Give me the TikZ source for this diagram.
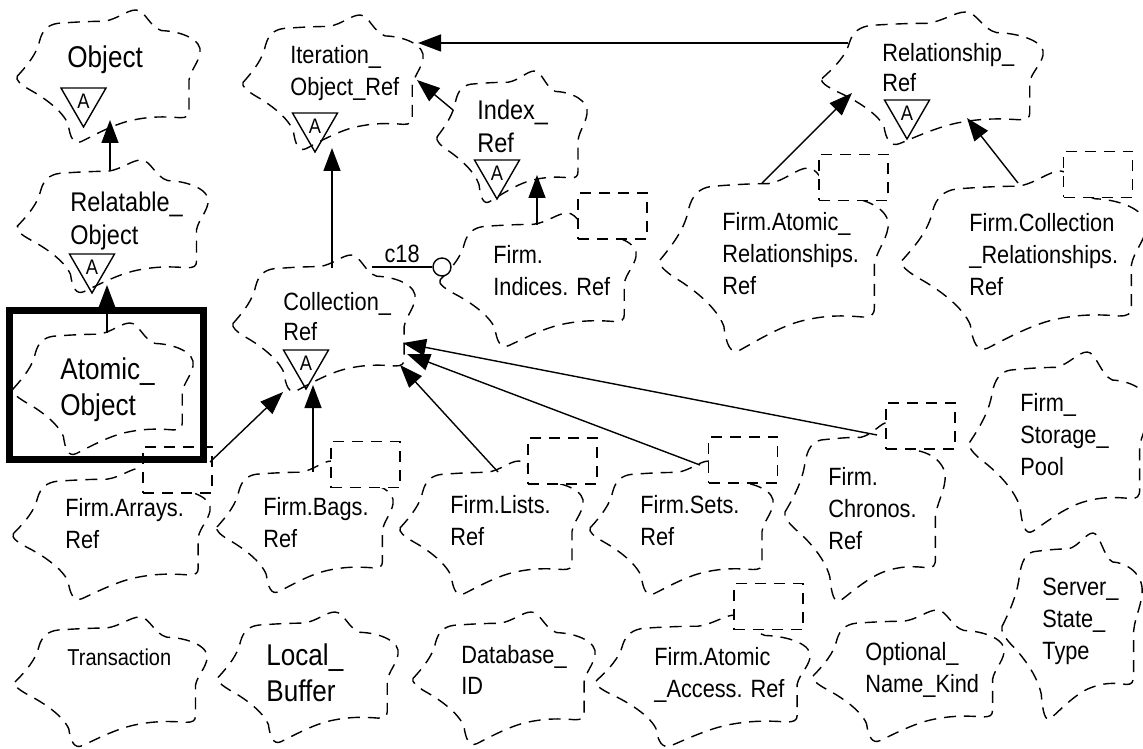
\documentclass[tikz,border=0pt]{standalone}
\usepackage{fontspec}
\setmainfont{Liberation Sans}[FakeStretch=0.87]
\usepackage{tikz}
\usetikzlibrary{arrows.meta,shapes.geometric}

\newcommand{\bcloud}[4]{\draw[cloudline,shift={(#1,#2)},xscale=#3,yscale=-#4]
  (-1,0) .. controls (-0.88,0.18) and (-0.78,0.35) .. (-0.75,0.55)
  .. controls (-0.72,0.7) and (-0.66,0.78) .. (-0.55,0.8)
  .. controls (-0.35,0.82) and (-0.2,0.83) .. (-0.05,0.83)
  .. controls (0.1,0.86) and (0.2,1.0) .. (0.3,1.0)
  .. controls (0.4,1.0) and (0.45,0.74) .. (0.58,0.69)
  .. controls (0.8,0.68) and (1.03,0.55) .. (1.0,0.35)
  .. controls (0.98,0.2) and (0.9,0.1) .. (0.88,-0.05)
  -- (0.88,-0.52) .. controls (0.88,-0.6) and (0.85,-0.62) .. (0.78,-0.62)
  .. controls (0.6,-0.6) and (0.45,-0.6) .. (0.25,-0.66)
  .. controls (0.05,-0.72) and (-0.18,-0.9) .. (-0.3,-0.98)
  .. controls (-0.38,-1.03) and (-0.42,-0.92) .. (-0.44,-0.72)
  .. controls (-0.5,-0.52) and (-0.7,-0.32) .. (-0.86,-0.2)
  .. controls (-0.96,-0.12) and (-1.02,-0.05) .. cycle;}

\begin{document}
\begin{tikzpicture}[x=0.5pt,y=-0.5pt,
  cloudline/.style={dash pattern=on 6pt off 4pt,line width=0.7pt},
  lbl/.style={anchor=north west,inner sep=0pt,align=left,font=\fontsize{12.5}{16}\selectfont},
  midlbl/.style={lbl,font=\fontsize{13.5}{16.5}\selectfont},
  biglbl/.style={lbl,font=\fontsize{15}{18}\selectfont},
  absmark/.style={draw,regular polygon,regular polygon sides=3,shape border rotate=180,minimum size=26pt,inner sep=0pt,line width=0.7pt,font=\fontsize{10.5}{10}\selectfont},
  parambox/.style={draw,fill=white,dash pattern=on 5.5pt off 4pt,line width=0.7pt,minimum width=34.5pt,minimum height=23pt,inner sep=0pt},
  inherit/.style={-{Triangle[length=11.5pt,width=8.5pt]},line width=0.7pt}]
\useasboundingbox (0,0) rectangle (1143,748);
\clip (0,0) rectangle (1143,748);

\bcloud{108.5}{76.5}{91.5}{66.5}
\bcloud{112.5}{226.5}{95.5}{66.5}
\bcloud{103}{389}{90}{66}
\bcloud{333}{82.5}{90}{67.5}
\bcloud{512}{137}{75}{66}
\bcloud{932.5}{78.5}{110.5}{66.5}
\bcloud{774}{260}{114}{92}
\bcloud{1024}{260.5}{122}{89.5}
\bcloud{324}{323.5}{91}{68.5}
\bcloud{538}{280}{98}{67}
\bcloud{111.5}{534}{98.5}{66}
\bcloud{305}{527}{88}{66}
\bcloud{491.5}{528}{91.5}{67}
\bcloud{681.5}{528}{91.5}{67}
\bcloud{865}{512}{80}{90}
\bcloud{1060}{442.5}{90.5}{90.5}
\bcloud{111}{682}{96}{65}
\bcloud{308}{677.5}{90}{65.5}
\bcloud{504}{678.5}{91}{66.5}
\bcloud{703}{681}{107}{66}
\bcloud{908.5}{676}{95.5}{66}
\bcloud{1072}{626.5}{70}{93.5}

\node[parambox] (arrays-par) at (177.5,470) {};
\node[parambox] (bags-par) at (365.5,464.5) {};
\node[parambox] (lists-par) at (562.5,461) {};
\node[parambox] (sets-par) at (743,460) {};
\node[parambox] (chronos-par) at (920.5,426) {};
\node[parambox] (indices-par) at (612.5,216) {};
\node[parambox] (atomrel-par) at (853.5,177.5) {};
\node[parambox] (collrel-par) at (1098,174.5) {};
\node[parambox] (access-par) at (768.5,606.5) {};

\node[draw,line width=3.5pt,minimum width=97pt,minimum height=74.5pt,inner sep=0pt] (atomic-box) at (106.5,385) {};

\node[biglbl] (object) at (67,45) {Object};
\node[midlbl] (relatable) at (70,192) {Relatable\_\\Object};
\node[biglbl] (atomic) at (60,357) {Atomic\_\\Object};
\node[lbl] (iteration) at (290,45) {Iteration\_\\Object\_Ref};
\node[midlbl] (index) at (477,100) {Index\_\\Ref};
\node[lbl,font=\fontsize{12.5}{15}\selectfont] (relship) at (882,43) {Relationship\_\\Ref};
\node[lbl,font=\fontsize{12.5}{15}\selectfont] (collection) at (283,292) {Collection\_\\Ref};
\node[lbl] (indices) at (493,245) {Firm.\\Indices. Ref};
\node[lbl] (atomrel) at (722,212) {Firm.Atomic\_\\Relationships.\\Ref};
\node[lbl] (collrel) at (969,213) {Firm.Collection\\\_Relationships.\\Ref};
\node[lbl] (arrays) at (65,498) {Firm.Arrays.\\Ref};
\node[lbl] (bags) at (263,497) {Firm.Bags.\\Ref};
\node[lbl] (lists) at (450,495) {Firm.Lists.\\Ref};
\node[lbl] (sets) at (640,495) {Firm.Sets.\\Ref};
\node[lbl] (chronos) at (828,467) {Firm.\\Chronos.\\Ref};
\node[lbl] (pool) at (1020,393) {Firm\_\\Storage\_\\Pool};
\node[lbl,font=\fontsize{11.5}{14}\selectfont] (transaction) at (67,648) {Transaction};
\node[biglbl] (buffer) at (266,643) {Local\_\\Buffer};
\node[lbl,font=\fontsize{12.5}{15.5}\selectfont] (database) at (461,645) {Database\_\\ID};
\node[lbl] (access) at (654,647) {Firm.Atomic\\\_Access. Ref};
\node[lbl] (optional) at (865,642) {Optional\_\\Name\_Kind};
\node[lbl] (server) at (1042,578) {Server\_\\State\_\\Type};

\node[absmark] (object-a) at (83.5,101) {A};
\node[absmark] (relatable-a) at (92,267) {A};
\node[absmark] (iteration-a) at (315,126) {A};
\node[absmark] (index-a) at (497,173) {A};
\node[absmark] (relship-a) at (907,113) {A};
\node[absmark] (collection-a) at (306,363) {A};

\coordinate (object-in) at (110,120);
\coordinate (relatable-out) at (110,170);
\coordinate (relatable-in) at (107,285);
\coordinate (atomic-out) at (107,333);
\coordinate (iteration-in1) at (332,148);
\coordinate (iteration-in2) at (417,80);
\coordinate (iteration-in3) at (418,43);
\coordinate (collection-out) at (332,268);
\coordinate (index-out) at (453,110);
\coordinate (relship-out) at (848,43);
\coordinate (relship-in1) at (852,93);
\coordinate (relship-in2) at (967,118);
\coordinate (atomrel-out) at (762,183);
\coordinate (collrel-out) at (1018,183);
\coordinate (index-in) at (537,175);
\coordinate (indices-out) at (537,225);
\coordinate (collection-in1) at (283,392);
\coordinate (collection-in2) at (313,385);
\coordinate (collection-in3) at (400,365);
\coordinate (collection-in4) at (407,354);
\coordinate (collection-in5) at (403,343);
\coordinate (arrays-out) at (210,462);
\coordinate (bags-out) at (313,472);
\coordinate (lists-out) at (498,472);
\coordinate (sets-out) at (700,465);
\coordinate (chronos-out) at (877,435);
\coordinate (collection-use) at (372,267);

\draw[inherit] (relatable-out) -- (object-in);
\draw[inherit] (atomic-out) -- (relatable-in);
\draw[inherit] (collection-out) -- (iteration-in1);
\draw[inherit] (index-out) -- (iteration-in2);
\draw[inherit] (relship-out) -- (iteration-in3);
\draw[inherit] (atomrel-out) -- (relship-in1);
\draw[inherit] (collrel-out) -- (relship-in2);
\draw[inherit] (indices-out) -- (index-in);
\draw[inherit] (arrays-out) -- (collection-in1);
\draw[inherit] (bags-out) -- (collection-in2);
\draw[inherit] (lists-out) -- (collection-in3);
\draw[inherit] (sets-out) -- (collection-in4);
\draw[inherit] (chronos-out) -- (collection-in5);

\node[circle,draw,fill=white,line width=0.7pt,minimum size=9pt,inner sep=0pt] (indices-use) at (442,267) {};
\draw[line width=0.7pt] (collection-use) -- (indices-use) node[midway,above,inner sep=2pt,font=\fontsize{12.5}{15}\selectfont] (c18) {c18};
\end{tikzpicture}
\end{document}
